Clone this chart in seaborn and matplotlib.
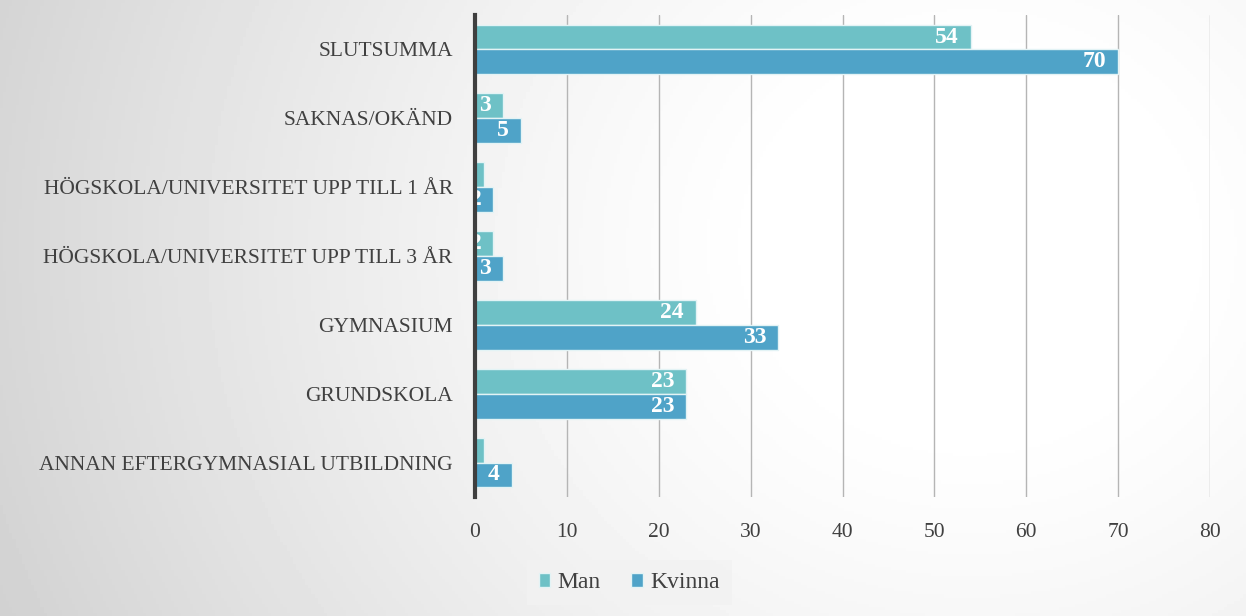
import matplotlib
matplotlib.use("Agg")
import matplotlib.pyplot as plt
import numpy as np
import pandas as pd
import seaborn as sns

categories = ["SLUTSUMMA", "SAKNAS/OKÄND", "HÖGSKOLA/UNIVERSITET UPP TILL 1 ÅR",
              "HÖGSKOLA/UNIVERSITET UPP TILL 3 ÅR", "GYMNASIUM", "GRUNDSKOLA",
              "ANNAN EFTERGYMNASIAL UTBILDNING"]
man = [54, 3, 1, 2, 24, 23, 1]
kvinna = [70, 5, 2, 3, 33, 23, 4]
series = ["Man", "Kvinna"]
colors = ["#6EC1C6", "#4FA3C8"]
xticks = [0, 10, 20, 30, 40, 50, 60, 70, 80]

df = pd.DataFrame({
    "kategori": categories * 2,
    "antal": man + kvinna,
    "kon": ["Man"] * len(man) + ["Kvinna"] * len(kvinna),
})

sns.set_theme(style="white")
plt.rcParams["font.family"] = ["Liberation Serif", "DejaVu Serif"]

fig = plt.figure(figsize=(12.46, 6.16), dpi=100)

# radial gradient background
bg = fig.add_axes([0, 0, 1, 1], zorder=-10)
xx, yy = np.meshgrid(np.linspace(0, 1, 400), np.linspace(0, 1, 200))
r = np.sqrt(((xx - 0.78) * 1.0) ** 2 + ((yy - 0.6) * 0.55) ** 2)
r = np.clip((r - 0.15) / 0.7, 0, 1)
bg.imshow(1 - 0.18 * r ** 1.3, cmap="gray", vmin=0, vmax=1, extent=[0, 1, 0, 1],
          aspect="auto", origin="lower")
bg.axis("off")

ax = fig.add_axes([475 / 1246, 1 - 497 / 616, (1210 - 475) / 1246, (497 - 15) / 616])
ax.patch.set_alpha(0)

sns.barplot(data=df, y="kategori", x="antal", hue="kon", hue_order=series,
            order=categories, palette=colors, saturation=1, width=0.72, orient="h",
            edgecolor="#e3f3f5", linewidth=1, ax=ax, legend=True, zorder=3)

# value labels, clipped to their bar like in the original
for container in ax.containers:
    for bar in container:
        w = bar.get_width()
        cy = bar.get_y() + bar.get_height() / 2
        t = ax.text(w - 1.3, cy, f"{int(w)}", ha="right", va="center",
                    color="white", fontweight="bold", fontsize=17, zorder=5,
                    clip_on=True)
        t.set_clip_path(bar)

ax.set_xlim(0, 80)
ax.set_xticks(xticks)
ax.set_xlabel("")
ax.set_ylabel("")
ax.grid(axis="x", color="#b5b5b5", linewidth=1, zorder=0)
ax.grid(axis="y", visible=False)
for s in ["top", "right", "bottom"]:
    ax.spines[s].set_visible(False)
ax.spines["left"].set_color("#3f3f3f")
ax.spines["left"].set_linewidth(3)
ax.spines["left"].set_zorder(6)
ax.tick_params(axis="x", length=0, pad=19, labelsize=15.5, labelcolor="#404040")
ax.tick_params(axis="y", length=0, pad=16, labelsize=15.5, labelcolor="#404040")

ax.legend_.remove()
handles = [plt.Rectangle((0, 0), 1, 1, facecolor=c, edgecolor="#e3f3f5") for c in colors]
fig.legend(handles, series, loc="center", bbox_to_anchor=(0.505, 0.054), ncol=2,
           frameon=True, facecolor="#f2f2f2", edgecolor="none", fontsize=17,
           handlelength=0.5, handleheight=0.5, handletextpad=0.3, columnspacing=1.3,
           borderpad=0.5, labelcolor="#404040", fancybox=False)

fig.savefig("out.png", dpi=100)
